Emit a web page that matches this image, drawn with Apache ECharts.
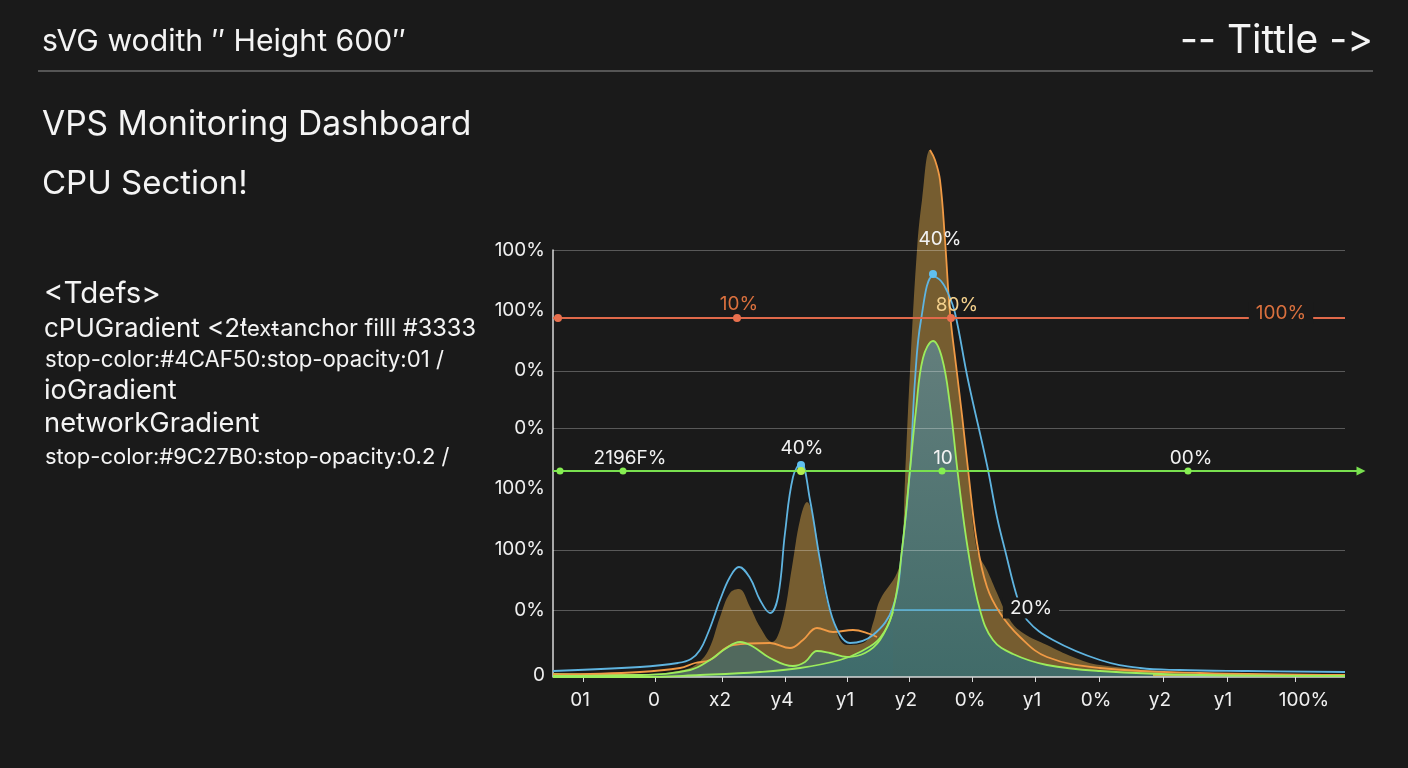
<!doctype html>
<html>
<head>
<meta charset="utf-8">
<title>VPS Monitoring Dashboard</title>
<style>
html, body { margin: 0; padding: 0; background: #1a1a1a; }
#main { width: 1408px; height: 768px; }
</style>
</head>
<body>
<div id="main"></div>
<script src="https://cdn.jsdelivr.net/npm/echarts@6/dist/echarts.min.js"></script>
<script>
// curves: [x, height] on the axis scales below
var brownArea = [[0,1],[87,2],[130,7],[145,14],[156,28],[167,60],[177,84],[186,88],[197,70],[207,50],[219,35],[229,54],[239,110],[247,157],[254,175],[262,150],[270,94],[280,57],[294,32],[312,35],[320,54],[327,77],[344,104],[349,127],[352,197],[357,306],[364,427],[369,477],[377,527],[382,517],[387,497],[392,437],[397,364],[403,312],[409,262],[415,208],[424,127],[434,107],[444,84],[457,57],[470,44],[494,32],[520,20],[547,12],[647,4],[792,2]];
var orangeLow = [[0,2],[87,5],[127,9],[142,14],[157,17],[180,32],[217,34],[237,29],[250,37],[264,49],[280,45],[300,47],[317,43],[324,40]];
var orangeFall = [[377,527],[382,517],[387,497],[392,437],[397,364],[403,312],[409,262],[415,208],[424,134],[434,90],[447,64],[467,40],[494,20],[547,9],[647,4],[792,2]];
var blueLine = [[0,6],[87,10],[125,14],[138,18],[147,27],[155,44],[161,60],[167,77],[177,100],[186,110],[197,99],[207,77],[217,64],[225,80],[232,144],[240,200],[248,214],[257,177],[267,117],[277,67],[287,42],[297,34],[320,42],[340,70],[349,127],[357,207],[362,297],[368,357],[380,401],[388,396],[395,384],[402,364],[415,297],[434,212],[444,160],[452,127],[465,77],[474,57],[500,37],[547,17],[587,9],[627,7],[694,6],[792,5]];
var greenMain = [[0,0],[87,0],[147,2],[207,5],[247,9],[287,17],[307,25],[327,39],[340,67],[349,127],[357,207],[363,267],[370,319],[380,336],[389,319],[397,272],[405,202],[415,127],[427,67],[440,37],[460,23],[494,12],[547,6],[647,2],[792,1]];
var greenBump = [[0,1],[87,2],[137,7],[157,17],[172,28],[187,35],[199,31],[217,19],[240,11],[252,15],[264,26],[277,24],[294,20],[312,24],[327,37],[340,65]];
var yellowBaseLeft = [[0,3],[90,2]];
var yellowBaseRight = [[600,2],[792,2]];
var baseLine = [[0,0],[792,0]];

var yLabelValues = [427, 367, 307, 249, 189, 128, 67, 2];
var yLabels = ['100%', '100%', '0%', '0%', '100%', '100%', '0%', '0'];
var gridLevels = [427, 306, 249, 127, 67];
var xTicks = [30, 102, 169, 232, 294, 356, 419, 482, 546, 610, 674, 742];
var xLabelValues = [27, 101, 167, 229, 292, 353, 417, 479, 543, 607, 670, 751];
var xLabels = ['01', '0', 'x2', 'y4', 'y1', 'y2', '0%', 'y1', '0%', 'y2', 'y1', '100%'];

var redLine = [[0,359],[792,359]];
var greenLine = [[0,206],[806,206]];
var greenArrow = [[808,206]];
var redDots = [[5,359],[184,359],[398,359]];
var greenDots = [[7,206],[70,206],[389,206],[635,206]];
var blueDots = [[248,212],[380,403]];
var limeDots = [[248,206]];

var whiteNotes = [[77,219,'2196F%'],[249,229,'40%'],[390,219,'10'],[638,219,'00%'],[387,438,'40%']];
var orangeNotes = [[186,373,'10%']];
var peachNotes = [[404,372,'80%']];
var cutNotes = [[728,364,'100%','#d9703e'],[478,69,'20%','#f2f2f2']];

var headerLeft = 'sVG wodith \u2033 Height 600\u2033';
var headerRight = '-- Tittle -\u200c>';
var heading = 'VPS Monitoring Dashboard';
var subHeading = 'CPU Section!';
var defsLines = ['<Tdefs>', "cPUGradient <2'", 'text', '-anchor filll #3333', 'stop-color:#4CAF50:stop-opacity:01 /', 'ioGradient', 'networkGradient', 'stop-color:#9C27B0:stop-opacity:0.2 /'];

var FONT = 'Inter';
var BG = '#1a1a1a';

function text(str, x, y, size, align) {
    return {
        type: 'text', x: x, y: y, silent: true,
        style: { text: str, fill: '#f4f4f4', font: size + 'px ' + FONT, textAlign: align || 'left', textVerticalAlign: 'middle' }
    };
}

function lineSeries(data, color, z, noClip) {
    return {
        type: 'line', data: data, smooth: 0.4, showSymbol: false, silent: true, z: z, clip: !noClip,
        lineStyle: { color: color, width: 1.8 }
    };
}

function areaSeries(data, fill, z, noClip) {
    return {
        type: 'line', data: data, smooth: 0.4, showSymbol: false, silent: true, z: z, clip: !noClip,
        lineStyle: { width: 0 }, areaStyle: { color: fill, opacity: 1 }
    };
}

function straight(data, color, z, width) {
    return {
        type: 'line', data: data, showSymbol: false, silent: true, z: z, clip: false,
        lineStyle: { color: color, width: width || 1.8 }
    };
}

function dots(data, color, size) {
    return { type: 'scatter', data: data, symbolSize: size, itemStyle: { color: color, opacity: 1 }, silent: true, z: 9, clip: false };
}

function notes(data, color) {
    return {
        type: 'scatter', symbolSize: 0, silent: true, z: 10, clip: false, itemStyle: { opacity: 1 },
        data: data.map(function (d) { return { value: [d[0], d[1]], name: d[2] }; }),
        label: { show: true, position: 'inside', formatter: '{b}', color: color, fontSize: 19, fontFamily: FONT }
    };
}

var tealFill = new echarts.graphic.LinearGradient(0, 0, 0, 1, [
    { offset: 0, color: 'rgba(98,128,128,0.95)' },
    { offset: 1, color: 'rgba(62,108,108,0.95)' }
]);

var chart = echarts.init(document.getElementById('main'));

chart.setOption({
    backgroundColor: BG,
    animation: false,
    // x axis runs past the plot so the green level line can reach its arrow
    grid: { left: 553, right: 42, top: 250, bottom: 91 },
    xAxis: {
        type: 'value', min: 0, max: 813, splitLine: { show: false },
        axisLine: { show: false, onZero: false },
        axisTick: { show: true, length: 5, customValues: xTicks, lineStyle: { color: '#d8d8d8' } },
        axisLabel: {
            customValues: xLabelValues, margin: 14, color: '#f0f0f0', fontSize: 19, fontFamily: FONT,
            formatter: function (v) { return xLabels[xLabelValues.indexOf(v)]; }
        }
    },
    yAxis: {
        type: 'value', min: 0, max: 427, splitLine: { show: false },
        axisLine: { show: true, onZero: false, lineStyle: { color: '#d8d8d8', width: 1.5 } },
        axisTick: { show: false },
        axisLabel: {
            customValues: yLabelValues, margin: 8, color: '#f0f0f0', fontSize: 19, fontFamily: FONT,
            formatter: function (v) { return yLabels[yLabelValues.indexOf(v)]; }
        }
    },
    graphic: [
        text(headerLeft, 42, 42, 30.2),
        text(headerRight, 1373, 41, 39, 'right'),
        { type: 'line', shape: { x1: 38, y1: 71, x2: 1373, y2: 71 }, style: { stroke: '#6a6a6a', lineWidth: 1.5 }, silent: true },
        text(heading, 42, 125, 33.6),
        text(subHeading, 42, 184, 33),
        text(defsLines[0], 44, 294, 29.5),
        text(defsLines[1], 44, 329, 26),
        text(defsLines[2], 240, 329, 22),
        text(defsLines[3], 476, 329, 23.6, 'right'),
        text(defsLines[4], 45, 360, 22.2),
        text(defsLines[5], 44, 391, 27.2),
        text(defsLines[6], 44, 424, 27.3),
        text(defsLines[7], 45, 457, 22)
    ],
    series: [
        areaSeries(brownArea, 'rgba(150,116,56,0.75)', 2, true),
        areaSeries(greenBump, 'rgba(70,110,108,0.75)', 3),
        areaSeries(greenMain, tealFill, 3),
        {
            // grid levels sit over the fills, and skip the label rows
            type: 'line', data: [], silent: true, z: 4,
            markLine: {
                silent: true, symbol: 'none', animation: false, label: { show: false },
                lineStyle: { color: 'rgba(255,255,255,0.28)', width: 1.2, type: 'solid' },
                data: gridLevels.map(function (v) { return [{ coord: [0, v] }, { coord: [792, v] }]; })
            }
        },
        {
            type: 'line', data: [], silent: true, z: 5,
            markLine: {
                silent: true, symbol: 'none', animation: false, label: { show: false },
                lineStyle: { color: '#5ab4dc', width: 1.6, type: 'solid' },
                data: [[{ coord: [340, 67] }, { coord: [447, 67] }]]
            }
        },
        straight(baseLine, '#d8d8d8', 4, 1.5),
        lineSeries(yellowBaseLeft, '#c9b84f', 5),
        lineSeries(yellowBaseRight, '#c9b84f', 5),
        lineSeries(orangeLow, '#f09a45', 6),
        lineSeries(orangeFall, '#f09a45', 6, true),
        lineSeries(blueLine, '#5fb4e0', 6),
        lineSeries(greenBump, '#9cec5c', 7),
        lineSeries(greenMain, '#9cec5c', 7),
        straight(redLine, '#e0694a', 8),
        straight(greenLine, '#79e04f', 8),
        {
            type: 'scatter', data: greenArrow, symbol: 'triangle', symbolRotate: -90, symbolSize: 9,
            itemStyle: { color: '#79e04f', opacity: 1 }, silent: true, z: 9, clip: false
        },
        dots(redDots, '#e8704e', 8),
        dots(blueDots, '#5fc0f0', 8),
        dots(greenDots, '#86ee52', 7),
        dots(limeDots, '#b4ee50', 8),
        notes(whiteNotes, '#f2f2f2'),
        notes(orangeNotes, '#d9703e'),
        notes(peachNotes, '#f3d08c'),
        {
            type: 'scatter', symbolSize: 0, silent: true, z: 10, clip: false, itemStyle: { opacity: 1 },
            data: cutNotes.map(function (d) {
                return {
                    value: [d[0], d[1]], name: d[2],
                    label: { color: d[3] }
                };
            }),
            label: { show: true, position: 'inside', formatter: '{b}', fontSize: 19, fontFamily: FONT, backgroundColor: BG, padding: [1, 7] }
        }
    ]
});
</script>
</body>
</html>
